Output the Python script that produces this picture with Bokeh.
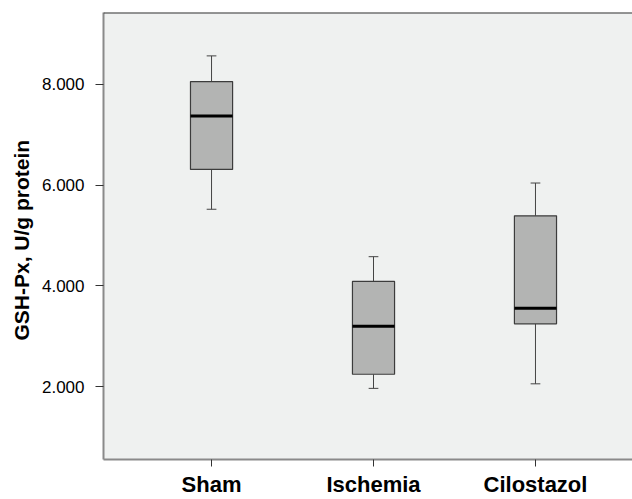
from bokeh.plotting import figure
from bokeh.models import Range1d, FixedTicker, Span, ColumnDataSource, Title
from bokeh.embed import file_html
from bokeh.resources import INLINE

categories = ["Sham", "Ischemia", "Cilostazol"]
whisker_low = [5.52, 1.97, 2.06]
q1 = [6.31, 2.25, 3.25]
median = [7.37, 3.20, 3.56]
q3 = [8.05, 4.09, 5.39]
whisker_high = [8.56, 4.58, 6.04]
ytick_values = [2, 4, 6, 8]
ytick_labels = ["2.000", "4.000", "6.000", "8.000"]
y_title = "GSH-Px, U/g protein"

xpos = [i + 1 for i in range(len(categories))]
box_w = 0.26
cap_w = 0.06

src = ColumnDataSource(dict(
    x=xpos, lo=whisker_low, q1=q1, med=median, q3=q3, hi=whisker_high,
    bl=[x - box_w / 2 for x in xpos], br=[x + box_w / 2 for x in xpos],
    cl=[x - cap_w / 2 for x in xpos], cr=[x + cap_w / 2 for x in xpos],
))

p = figure(width=632, height=499, output_backend="svg", toolbar_location=None,
           x_range=Range1d(0.333, 3.599), y_range=Range1d(0.56, 9.42),
           min_border_left=103, min_border_right=0, min_border_top=12, min_border_bottom=40)
p.background_fill_color = "#eff1f0"
p.border_fill_color = "white"
p.outline_line_color = None
p.xgrid.visible = False
p.ygrid.visible = False

# whiskers
p.segment(x0="x", y0="q3", x1="x", y1="hi", source=src, line_color="#444444", line_width=1)
p.segment(x0="x", y0="lo", x1="x", y1="q1", source=src, line_color="#444444", line_width=1)
p.segment(x0="cl", y0="hi", x1="cr", y1="hi", source=src, line_color="#444444", line_width=1)
p.segment(x0="cl", y0="lo", x1="cr", y1="lo", source=src, line_color="#444444", line_width=1)
# boxes
p.quad(left="bl", right="br", bottom="q1", top="q3", source=src,
       fill_color="#b3b4b3", line_color="#3c3c3c", line_width=1.2)
# medians
p.segment(x0="bl", y0="med", x1="br", y1="med", source=src, line_color="black", line_width=3)

# top border
p.add_layout(Span(location=9.42, dimension="width", line_color="#333333", line_width=2))

p.xaxis.ticker = FixedTicker(ticks=xpos)
p.xaxis.major_label_overrides = {x: c for x, c in zip(xpos, categories)}
p.xaxis.major_label_text_font = "Liberation Sans"
p.xaxis.major_label_text_font_style = "bold"
p.xaxis.major_label_text_font_size = "22px"
p.xaxis.major_label_text_color = "black"
p.xaxis.major_label_standoff = 5
p.xaxis.minor_tick_line_color = None
p.xaxis.major_tick_in = 0
p.xaxis.major_tick_out = 7
p.xaxis.major_tick_line_color = "#333333"
p.xaxis.axis_line_color = "#8a8a8a"
p.xaxis.axis_line_width = 2

p.yaxis.ticker = FixedTicker(ticks=ytick_values)
p.yaxis.major_label_overrides = {v: l for v, l in zip(ytick_values, ytick_labels)}
p.yaxis.major_label_text_font = "Liberation Sans"
p.yaxis.major_label_text_font_size = "17px"
p.yaxis.major_label_text_color = "black"
p.yaxis.major_label_standoff = 11
p.yaxis.minor_tick_line_color = None
p.yaxis.major_tick_in = 0
p.yaxis.major_tick_out = 8
p.yaxis.major_tick_line_color = "#333333"
p.yaxis.axis_line_color = "#8a8a8a"
p.yaxis.axis_line_width = 2

t = Title(text=y_title, align="left", offset=119, standoff=12,
          text_font="Liberation Sans", text_font_style="bold",
          text_font_size="21px", text_color="black")
p.add_layout(t, "left")

open("out.html", "w").write(file_html(p, INLINE))
